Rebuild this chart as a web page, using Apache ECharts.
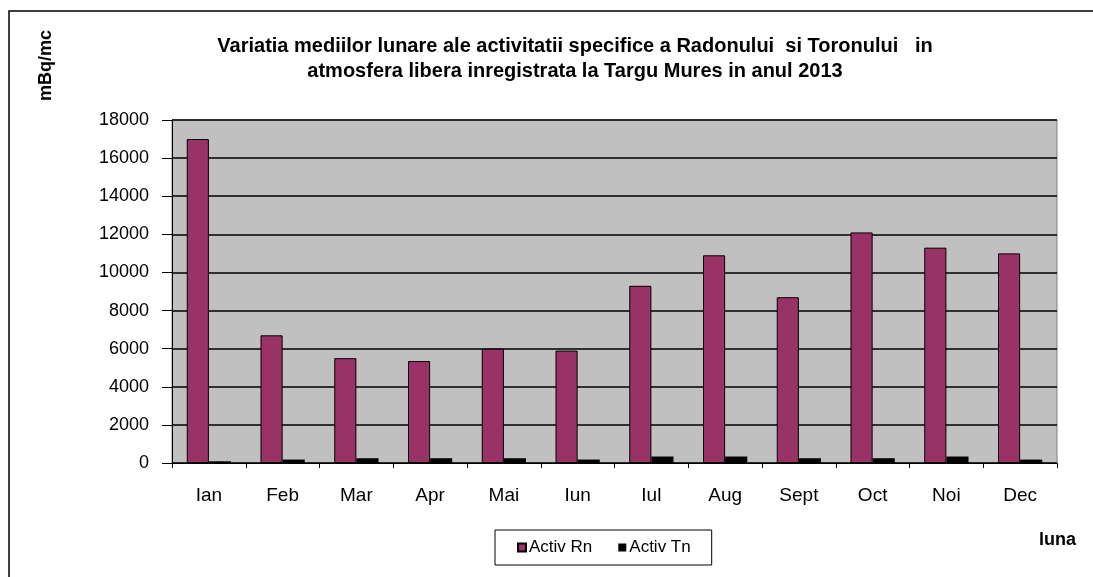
<!DOCTYPE html>
<html>
<head>
<meta charset="utf-8">
<script src="https://cdn.jsdelivr.net/npm/echarts@6/dist/echarts.min.js"></script>
<style>
	html, body { margin: 0; padding: 0; background: #fff; }
	#main { width: 1093px; height: 577px; }
</style>
</head>
<body>
<div id="main"></div>
<script>
// date
var months = ['Ian', 'Feb', 'Mar', 'Apr', 'Mai', 'Iun', 'Iul', 'Aug', 'Sept', 'Oct', 'Noi', 'Dec'];
var activRn = [17000, 6700, 5500, 5350, 6000, 5900, 9300, 10900, 8700, 12100, 11300, 11000];
var activTn = [90, 180, 250, 250, 250, 180, 340, 340, 250, 250, 340, 180];
var yTicks = [0, 18000, 2000]; // min, max, interval

var font = '"Liberation Sans", Arial, sans-serif';
var myChart = echarts.init(document.getElementById('main'));

var option = {
	animation: false,
	backgroundColor: '#fff',
	textStyle: { fontFamily: font },
	title: {
		text: 'Variatia mediilor lunare ale activitatii specifice a Radonului  si Toronului   in\natmosfera libera inregistrata la Targu Mures in anul 2013',
		left: 570,
		top: 29,
		textAlign: 'center',
		textStyle: {
			fontFamily: font,
			fontSize: 20,
			fontWeight: 'bold',
			color: '#000',
			lineHeight: 25
		}
	},
	legend: {
		data: ['Activ Rn', 'Activ Tn'],
		left: 495,
		top: 530,
		icon: 'rect',
		itemWidth: 8,
		itemHeight: 8,
		itemGap: 26,
		padding: [9, 21, 9, 22],
		borderColor: '#000',
		borderWidth: 1,
		textStyle: { fontFamily: font, fontSize: 17, color: '#000', padding: [0, 0, 0, -2] }
	},
	grid: {
		left: 172,
		right: 36,
		top: 120,
		bottom: 114,
		show: true,
		backgroundColor: '#C0C0C0',
		borderColor: '#808080',
		borderWidth: 1
	},
	xAxis: {
		type: 'category',
		data: months,
		axisLine: { lineStyle: { color: '#000', width: 1 } },
		axisTick: { show: true, length: 5, lineStyle: { color: '#000' } },
		axisLabel: { fontFamily: font, fontSize: 19, color: '#000', margin: 23 }
	},
	yAxis: {
		type: 'value',
		min: yTicks[0],
		max: yTicks[1],
		interval: yTicks[2],
		axisLine: { show: true, lineStyle: { color: '#000', width: 1 } },
		axisTick: { show: true, length: 10, lineStyle: { color: '#000' } },
		axisLabel: {
			fontFamily: font, fontSize: 18, color: '#000', margin: 23,
			formatter: function(v) { return String(v); }
		},
		splitLine: { lineStyle: { color: '#000', width: 1.5 } }
	},
	graphic: [
		{
			type: 'rect',
			shape: { x: 9, y: 11, width: 1200, height: 700 },
			style: { fill: 'none', stroke: '#000', lineWidth: 1.5 },
			silent: true
		},
		{
			type: 'text',
			x: 37,
			y: 101,
			rotation: Math.PI / 2,
			style: { text: 'mBq/mc', font: 'bold 18px ' + font, fill: '#000' }
		},
		{
			type: 'text',
			x: 1039,
			y: 531,
			style: { text: 'luna', font: 'bold 18px ' + font, fill: '#000' }
		}
	],
	series: [{
		name: 'Activ Rn',
		type: 'bar',
		data: activRn,
		barGap: '0%',
		barCategoryGap: '40%',
		itemStyle: { color: '#993366', borderColor: '#000', borderWidth: 1 }
	}, {
		name: 'Activ Tn',
		type: 'bar',
		data: activTn,
		itemStyle: { color: '#000' }
	}]
};
myChart.setOption(option);
</script>
</body>
</html>
